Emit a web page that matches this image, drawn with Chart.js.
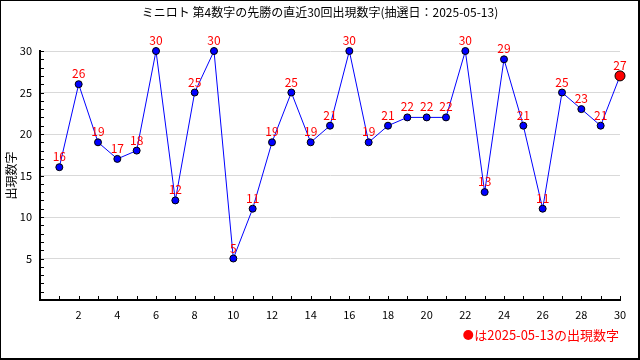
<!DOCTYPE html>
<html>
<head>
<meta charset="utf-8">
<script src="https://cdn.jsdelivr.net/npm/chart.js@4/dist/chart.umd.min.js"></script>
<style>
html,body{margin:0;padding:0;background:#fff;}
canvas{display:block;}
</style>
</head>
<body>
<canvas id="c" width="640" height="360"></canvas>
<script>
const titleText = "ミニロト 第4数字の先勝の直近30回出現数字(抽選日：2025-05-13)";
const yAxisTitle = "出現数字";
const legendText = "は2025-05-13の出現数字";
const rounds = [1,2,3,4,5,6,7,8,9,10,11,12,13,14,15,16,17,18,19,20,21,22,23,24,25,26,27,28,29,30];
const values = [16,26,19,17,18,30,12,25,30,5,11,19,25,19,21,30,19,21,22,22,22,30,13,29,21,11,25,23,21,27];
const yLabelTicks = [5,10,15,20,25,30];
const xLabelTicks = [2,4,6,8,10,12,14,16,18,20,22,24,26,28,30];

const FONT = "'Noto Sans CJK JP', 'Noto Sans', sans-serif";
const last = values.length - 1;

const decor = {
  id: 'decor',
  beforeDatasetsDraw(chart) {
    const {ctx, scales:{x, y}, chartArea:a} = chart;
    ctx.save();
    ctx.strokeStyle = '#000';
    ctx.lineWidth = 1;
    ctx.beginPath();
    for (let i = 1; i <= 30; i++) {
      const px = Math.round(x.getPixelForValue(i)) + 0.5;
      ctx.moveTo(px, a.bottom - 4);
      ctx.lineTo(px, a.bottom);
      const py = Math.round(y.getPixelForValue(i)) + 0.5;
      ctx.moveTo(a.left, py);
      ctx.lineTo(a.left + 4, py);
    }
    ctx.stroke();
    ctx.restore();
  },
  afterDatasetsDraw(chart) {
    const {ctx} = chart;
    const meta = chart.getDatasetMeta(0);
    ctx.save();
    ctx.fillStyle = '#ff0000';
    ctx.font = '12px ' + FONT;
    ctx.textAlign = 'center';
    ctx.textBaseline = 'alphabetic';
    meta.data.forEach((pt, i) => {
      ctx.fillText(String(values[i]), pt.x, pt.y - 6);
    });
    ctx.restore();
  },
  afterDraw(chart) {
    const {ctx, chartArea:a} = chart;
    ctx.save();
    // title
    ctx.fillStyle = '#000';
    ctx.font = '12px ' + FONT;
    ctx.textAlign = 'center';
    ctx.textBaseline = 'middle';
    ctx.fillText(titleText, 320, 12);
    // y axis title
    ctx.save();
    ctx.translate(11, (a.top + a.bottom) / 2);
    ctx.rotate(-Math.PI / 2);
    ctx.fillText(yAxisTitle, 0, 0);
    ctx.restore();
    // legend note
    ctx.fillStyle = '#ff0000';
    ctx.textAlign = 'right';
    ctx.font = '13px ' + FONT;
    ctx.fillText(legendText, 619, 335);
    const w = ctx.measureText(legendText).width;
    ctx.beginPath();
    ctx.arc(619 - w - 6, 335, 5, 0, Math.PI * 2);
    ctx.fill();
    // frame
    ctx.fillStyle = '#000';
    ctx.fillRect(0, 0, 640, 1);
    ctx.fillRect(0, 0, 1, 360);
    ctx.fillRect(638, 0, 2, 360);
    ctx.fillRect(0, 358, 640, 2);
    ctx.restore();
  }
};

new Chart(document.getElementById('c'), {
  type: 'line',
  data: {
    datasets: [{
      data: rounds.map((r, i) => ({x: r, y: values[i]})),
      clip: false,
      borderColor: '#0000ff',
      borderWidth: 1,
      tension: 0,
      fill: false,
      pointBackgroundColor: values.map((v, i) => i === last ? '#ff0000' : '#0000ff'),
      pointBorderColor: '#000',
      pointBorderWidth: 1,
      pointRadius: values.map((v, i) => i === last ? 5 : 3.5),
      pointHoverRadius: values.map((v, i) => i === last ? 5 : 3.5)
    }]
  },
  options: {
    responsive: false,
    animation: false,
    devicePixelRatio: 1,
    layout: {padding: {top: 51, right: 20, left: 0, bottom: 0}},
    plugins: {legend: {display: false}, title: {display: false}, tooltip: {enabled: false}},
    scales: {
      x: {
        type: 'linear', min: 0, max: 30,
        afterFit(s) { s.height = 60; },
        afterBuildTicks(s) { s.ticks = rounds.map(v => ({value: v})); },
        ticks: {
          autoSkip: false, maxRotation: 0, padding: 8, color: '#000',
          font: {family: FONT, size: 11},
          callback: v => xLabelTicks.includes(v) ? String(v) : ''
        },
        grid: {color: 'rgba(0,0,0,0)', drawTicks: false},
        border: {display: true, color: '#000', width: 2}
      },
      y: {
        type: 'linear', min: 0, max: 30,
        afterFit(s) { s.width = 40; },
        afterBuildTicks(s) { s.ticks = [0].concat(rounds).map(v => ({value: v})); },
        ticks: {
          autoSkip: false, padding: 8, color: '#000',
          font: {family: FONT, size: 11},
          callback: v => yLabelTicks.includes(v) ? String(v) : ''
        },
        grid: {
          drawTicks: false,
          color: c => (c.tick && yLabelTicks.includes(c.tick.value)) ? '#d9d9d9' : 'rgba(0,0,0,0)'
        },
        border: {display: true, color: '#000', width: 2}
      }
    }
  },
  plugins: [decor]
});
</script>
</body>
</html>
